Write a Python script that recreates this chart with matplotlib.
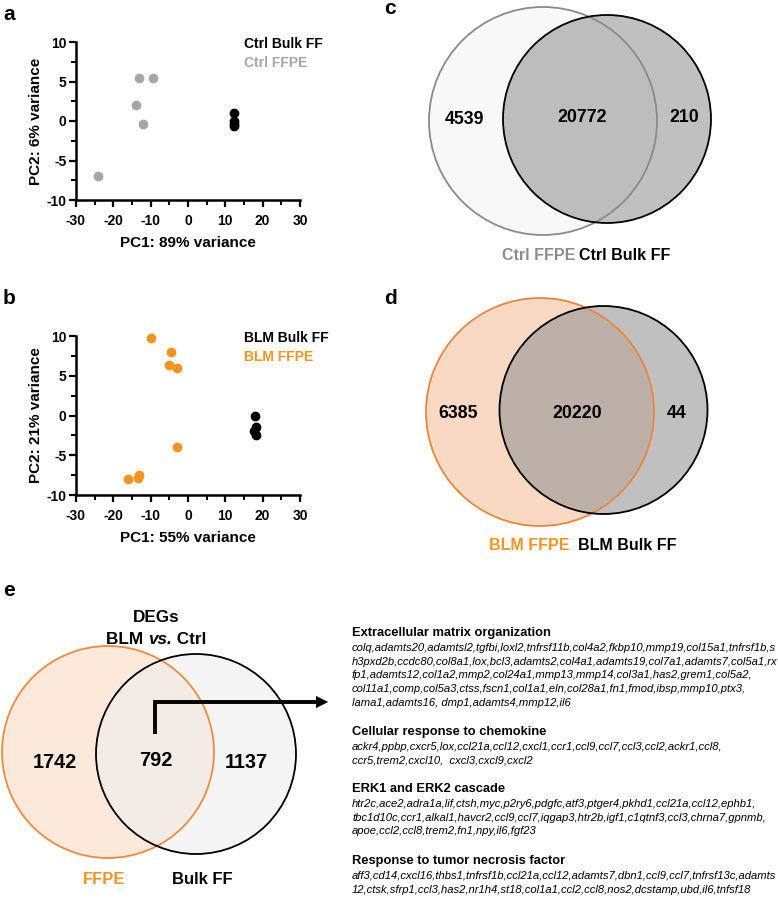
import matplotlib
matplotlib.use("Agg")
import matplotlib.pyplot as plt
from matplotlib.patches import Circle, FancyArrowPatch
from matplotlib.ticker import MultipleLocator

plt.rcParams['font.family'] = ['Liberation Sans', 'DejaVu Sans']
plt.rcParams['axes.unicode_minus'] = False

# PCA data
ctrl_ff_x = [12.3, 12.3, 12.2, 12.4]
ctrl_ff_y = [1.0, 0.0, -0.4, -0.6]
ctrl_ffpe_x = [-24, -14, -13, -9.3, -12]
ctrl_ffpe_y = [-7, 2, 5.5, 5.5, -0.4]
blm_ff_x = [18.0, 18.1, 17.7, 18.2]
blm_ff_y = [0.0, -1.4, -2.0, -2.4]
blm_ffpe_x = [-10, -4.5, -5, -3, -3, -16, -13.5, -13]
blm_ffpe_y = [9.8, 8.0, 6.4, 6.0, -4.0, -8.0, -7.8, -7.5]

# Venn counts: only-left, shared, only-right
venn_ctrl = [4539, 20772, 210]
venn_blm = [6385, 20220, 44]
venn_deg = [1742, 792, 1137]

go_terms = ["Extracellular matrix organization",
            "Cellular response to chemokine",
            "ERK1 and ERK2 cascade",
            "Response to tumor necrosis factor"]
go_genes = [
    ["colq,adamts20,adamtsl2,tgfbi,loxl2,tnfrsf11b,col4a2,fkbp10,mmp19,col15a1,tnfrsf1b,s",
     "h3pxd2b,ccdc80,col8a1,lox,bcl3,adamts2,col4a1,adamts19,col7a1,adamts7,col5a1,rx",
     "fp1,adamts12,col1a2,mmp2,col24a1,mmp13,mmp14,col3a1,has2,grem1,col5a2,",
     "col11a1,comp,col5a3,ctss,fscn1,col1a1,eln,col28a1,fn1,fmod,ibsp,mmp10,ptx3,",
     "lama1,adamts16, dmp1,adamts4,mmp12,il6"],
    ["ackr4,ppbp,cxcr5,lox,ccl21a,ccl12,cxcl1,ccr1,ccl9,ccl7,ccl3,ccl2,ackr1,ccl8,",
     "ccr5,trem2,cxcl10,  cxcl3,cxcl9,cxcl2"],
    ["htr2c,ace2,adra1a,lif,ctsh,myc,p2ry6,pdgfc,atf3,ptger4,pkhd1,ccl21a,ccl12,ephb1,",
     "tbc1d10c,ccr1,alkal1,havcr2,ccl9,ccl7,iqgap3,htr2b,igf1,c1qtnf3,ccl3,chrna7,gpnmb,",
     "apoe,ccl2,ccl8,trem2,fn1,npy,il6,fgf23"],
    ["aff3,cd14,cxcl16,thbs1,tnfrsf1b,ccl21a,ccl12,adamts7,dbn1,ccl9,ccl7,tnfrsf13c,adamts",
     "12,ctsk,sfrp1,ccl3,has2,nr1h4,st18,col1a1,ccl2,ccl8,nos2,dcstamp,ubd,il6,tnfsf18"],
]

GRAY = '#a6a6a6'
ORANGE = '#f7931e'
W, H = 778, 900

fig = plt.figure(figsize=(W / 100, H / 100), dpi=100)


def pca_axes(top, bottom, x1, y1, c1, x2, y2, c2, xlab, ylab, lab1, lab2):
    ax = fig.add_axes([76 / W, 1 - bottom / H, 224 / W, (bottom - top) / H])
    ax.scatter(x2, y2, s=36, color=c2, zorder=3, clip_on=False)
    ax.scatter(x1, y1, s=36, color=c1, zorder=3, clip_on=False)
    ax.set_xlim(-30, 30)
    ax.set_ylim(-10, 10)
    ax.xaxis.set_major_locator(MultipleLocator(10))
    ax.xaxis.set_minor_locator(MultipleLocator(5))
    ax.yaxis.set_major_locator(MultipleLocator(5))
    ax.yaxis.set_minor_locator(MultipleLocator(2.5))
    for s in ['top', 'right']:
        ax.spines[s].set_visible(False)
    for s in ['left', 'bottom']:
        ax.spines[s].set_linewidth(1.8)
    ax.tick_params(which='major', length=5, width=1.6, labelsize=10, pad=2)
    ax.tick_params(axis='x', which='major', pad=5)
    ax.tick_params(which='minor', length=3.5, width=1.4)
    for t in ax.get_xticklabels() + ax.get_yticklabels():
        t.set_fontweight('bold')
    ax.set_xlabel(xlab, fontsize=11, fontweight='bold', labelpad=6)
    ax.set_ylabel(ylab, fontsize=11, fontweight='bold', labelpad=2)
    ax.text(0.75, 0.985, lab1, transform=ax.transAxes, color=c1, fontsize=10,
            fontweight='bold', va='center')
    ax.text(0.75, 0.87, lab2, transform=ax.transAxes, color=c2, fontsize=10,
            fontweight='bold', va='center')
    return ax


pca_axes(42, 200, ctrl_ff_x, ctrl_ff_y, 'black', ctrl_ffpe_x, ctrl_ffpe_y, GRAY,
         'PC1: 89% variance', 'PC2: 6% variance', 'Ctrl Bulk FF', 'Ctrl FFPE')
pca_axes(336, 495, blm_ff_x, blm_ff_y, 'black', blm_ffpe_x, blm_ffpe_y, ORANGE,
         'PC1: 55% variance', 'PC2: 21% variance', 'BLM Bulk FF', 'BLM FFPE')

# overlay axes in pixel coordinates
ov = fig.add_axes([0, 0, 1, 1], zorder=-1)
ov.set_xlim(0, W)
ov.set_ylim(H, 0)
ov.axis('off')

for lab, (x, y) in zip('abcde', [(3, 15), (3, 299), (384, 9), (384, 298), (3, 590)]):
    ov.text(x, y, lab, fontsize=15, fontweight='bold', ha='left', va='center')


def venn(c1, r1, c2, r2, fill1, edge1, fill2, alpha2, edge2, counts, pos, fs, lw=1.3):
    ov.add_patch(Circle(c1, r1, facecolor=fill1, edgecolor='none'))
    ov.add_patch(Circle(c2, r2, facecolor=fill2, alpha=alpha2, edgecolor='none'))
    ov.add_patch(Circle(c1, r1, facecolor='none', edgecolor=edge1, lw=lw))
    ov.add_patch(Circle(c2, r2, facecolor='none', edgecolor=edge2, lw=lw))
    for n, p in zip(counts, pos):
        ov.text(p[0], p[1], str(n), fontsize=fs, fontweight='bold', ha='center', va='center')


venn((543, 121), 114, (607, 119), 104, '#f8f8f8', '#8a8a8a', '#969696', 0.6, 'black',
     venn_ctrl, [(465, 120), (582, 117), (684, 118)], 12.8)
ov.text(575, 255, 'Ctrl FFPE', color='#8c8c8c', fontsize=11.5, fontweight='bold', ha='right', va='center')
ov.text(579, 255, 'Ctrl Bulk FF', color='black', fontsize=11.5, fontweight='bold', ha='left', va='center')

venn((540, 412), 114, (603.5, 410), 104, '#f9d9c3', '#e8863f', '#969696', 0.6, 'black',
     venn_blm, [(458, 413), (577, 414), (677, 414)], 12.8)
ov.text(570, 545, 'BLM FFPE', color=ORANGE, fontsize=11.5, fontweight='bold', ha='right', va='center')
ov.text(578, 545, 'BLM Bulk FF', color='black', fontsize=11.5, fontweight='bold', ha='left', va='center')

venn((108, 752), 106, (196, 754), 100, '#fce9dc', '#f08a3c', '#eeeeee', 0.6, 'black',
     venn_deg, [(55, 762), (156, 760), (246, 762)], 14.3)
ov.text(156, 618, 'DEGs', fontsize=12.3, fontweight='bold', ha='center', va='center')

# "BLM vs. Ctrl" with italic "vs."
renderer = fig.canvas.get_renderer()
parts = [('BLM ', 'normal'), ('vs.', 'italic'), (' Ctrl', 'normal')]
texts = [ov.text(0, 640, p, fontsize=12.3, fontweight='bold', style=st, va='center')
         for p, st in parts]
widths = [t.get_window_extent(renderer).width for t in texts]
x = 156 - sum(widths) / 2
for t, w in zip(texts, widths):
    t.set_x(x)
    x += w

ov.text(104, 879, 'FFPE', color=ORANGE, fontsize=12, fontweight='bold', ha='center', va='center')
ov.text(202, 879, 'Bulk FF', color='black', fontsize=12, fontweight='bold', ha='center', va='center')

ov.plot([155, 155, 318], [734, 702, 702], color='black', lw=2.8, solid_capstyle='butt',
        solid_joinstyle='miter')
ov.add_patch(FancyArrowPatch((312, 702), (331, 702), arrowstyle='-|>', mutation_scale=22,
                             color='black', lw=0))

head_y = [633, 732, 789, 861]
for term, genes, y in zip(go_terms, go_genes, head_y):
    ov.text(352, y, term, fontsize=9.3, fontweight='bold', ha='left', va='center')
    for i, g in enumerate(genes):
        ov.text(352, y + 15 + i * 13.7, g, fontsize=8.1, style='italic', ha='left', va='center')

fig.savefig('out.png', dpi=100)
